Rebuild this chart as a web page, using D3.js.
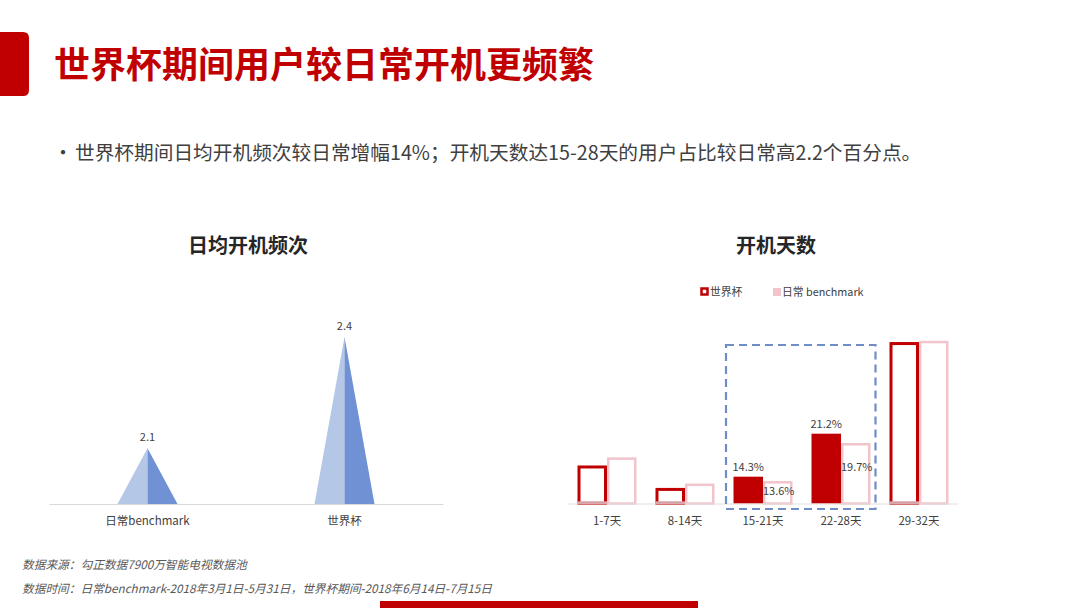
<!DOCTYPE html>
<html><head><meta charset="utf-8">
<script src="https://cdn.jsdelivr.net/npm/d3@7/dist/d3.min.js"></script>
<style>
body{margin:0;background:#fff;}
svg{display:block;font-family:"Noto Sans CJK SC","Noto Sans",sans-serif;}
</style></head>
<body><svg id="c" width="1080" height="608"></svg>
<script>
// ---- data ----
const pageTitle = "世界杯期间用户较日常开机更频繁";
const bulletText = "世界杯期间日均开机频次较日常增幅14%；开机天数达15-28天的用户占比较日常高2.2个百分点。";
const leftTitle = "日均开机频次";
const freqCategories = ["日常benchmark", "世界杯"];
const freqValues = [2.1, 2.4];
const rightTitle = "开机天数";
const dayCategories = ["1-7天", "8-14天", "15-21天", "22-28天", "29-32天"];
const seriesNames = ["世界杯", "日常 benchmark"];
const worldCupValues = [16.1, 12.5, 14.3, 21.2, 35.9];
const benchmarkValues = [17.4, 13.2, 13.6, 19.7, 36.1];
const highlighted = ["15-21天", "22-28天"];
const footnotes = ["数据来源：勾正数据7900万智能电视数据池", "数据时间：日常benchmark-2018年3月1日-5月31日，世界杯期间-2018年6月14日-7月15日"];

const svg = d3.select("#c");
const RED = "#c00000", PINK = "#f2c4cb", TXT = "#404040";

// ---- header ----
svg.append("path").attr("d","M0,32 H23 Q29,32 29,38 V90 Q29,96 23,96 H0 Z").attr("fill",RED);
svg.append("text").attr("x",54).attr("y",78).attr("font-size",36).attr("font-weight",700)
  .attr("fill",RED).text(pageTitle);
svg.append("text").attr("x",53).attr("y",160).attr("font-size",20).attr("fill",TXT).text("•");
svg.append("text").attr("x",75).attr("y",160).attr("font-size",19.7).attr("fill",TXT).text(bulletText);

// ---- left chart ----
svg.append("text").attr("x",248).attr("y",253).attr("text-anchor","middle")
  .attr("font-size",20).attr("font-weight",700).attr("fill","#262626").text(leftTitle);
const xL = d3.scaleBand().domain(freqCategories).range([49,443]);
const yL = d3.scaleLinear().domain([1.95,2.5]).range([504,300]);
const gL = svg.append("g");
const half = 30;
freqCategories.forEach((c,i)=>{
  const cx = xL(c)+xL.bandwidth()/2, top = yL(freqValues[i]), base = yL.range()[0];
  gL.append("path").attr("d",`M${cx-half},${base} L${cx},${top} L${cx},${base} Z`).attr("fill","#b4c7e7");
  gL.append("path").attr("d",`M${cx},${top} L${cx+half},${base} L${cx},${base} Z`).attr("fill","#7091d3");
  gL.append("text").attr("x",cx).attr("y",top-7).attr("text-anchor","middle")
    .attr("font-size",11).attr("fill",TXT).text(freqValues[i].toFixed(1));
});
const axL = svg.append("g").attr("transform","translate(0,504)").call(d3.axisBottom(xL).tickSize(0).tickPadding(13));
axL.select(".domain").attr("stroke","#d9d9d9");
axL.selectAll("text").attr("font-size",11.5).attr("fill",TXT).attr("font-family","\"Noto Sans CJK SC\",sans-serif");

// ---- right chart ----
svg.append("text").attr("x",776).attr("y",253).attr("text-anchor","middle")
  .attr("font-size",20).attr("font-weight",700).attr("fill","#262626").text(rightTitle);
// legend
const lg = svg.append("g");
lg.append("rect").attr("x",701.5).attr("y",288.5).attr("width",6).attr("height",6).attr("fill","#fff").attr("stroke",RED).attr("stroke-width",2.5);
lg.append("text").attr("x",710).attr("y",296).attr("font-size",10.8).attr("fill",TXT).text(seriesNames[0]);
lg.append("rect").attr("x",773).attr("y",288).attr("width",8).attr("height",8).attr("fill",PINK);
lg.append("text").attr("x",782).attr("y",296).attr("font-size",10.8).attr("fill",TXT).text(seriesNames[1]);

const xR = d3.scaleBand().domain(dayCategories).range([568,958]);
const yR = d3.scaleLinear().domain([10,40]).range([503.5,316.5]);
const bw = 29.5;
const gR = svg.append("g");
// baseline
const axR = svg.append("g").attr("transform","translate(0,503.5)").call(d3.axisBottom(xR).tickSize(0).tickPadding(13));
axR.select(".domain").attr("stroke","#e3dede");
axR.selectAll("text").attr("font-size",11.5).attr("fill",TXT).attr("font-family","\"Noto Sans CJK SC\",sans-serif");

dayCategories.forEach((c,i)=>{
  const cx = xR(c)+xR.bandwidth()/2;
  const hl = highlighted.includes(c);
  const wTop = yR(worldCupValues[i]), bTop = yR(benchmarkValues[i]), base = yR.range()[0];
  // benchmark bar (outlined pink)
  gR.append("rect").attr("x",cx+1.25).attr("y",bTop+1.25).attr("width",bw-2.5).attr("height",base-bTop-1.25)
    .attr("fill","#fff").attr("stroke",PINK).attr("stroke-width",2.5);
  if(hl){
    gR.append("rect").attr("x",cx-bw).attr("y",wTop).attr("width",bw).attr("height",base-wTop).attr("fill",RED);
    gR.append("text").attr("x",cx-bw/2).attr("y",wTop-6).attr("text-anchor","middle").attr("font-size",11).attr("fill",TXT).text(worldCupValues[i].toFixed(1)+"%");
    const ly = i===2 ? bTop+14 : (bTop+base)/2-2;
    gR.append("text").attr("x",cx+bw/2+1).attr("y",ly).attr("text-anchor","middle").attr("font-size",11).attr("fill",TXT).text(benchmarkValues[i].toFixed(1)+"%");
  } else {
    gR.append("rect").attr("x",cx-bw+1.5).attr("y",wTop+1.5).attr("width",bw-3).attr("height",base-wTop-1.5)
      .attr("fill","#fff").attr("stroke",RED).attr("stroke-width",3);
    gR.append("line").attr("x1",cx-bw).attr("x2",cx).attr("y1",base-1).attr("y2",base-1).attr("stroke","#d8a0a6").attr("stroke-width",2.5);
  }
});
// dashed highlight box
const hx0 = xR(highlighted[0])+xR.bandwidth()/2-bw-7.5;
const hx1 = xR(highlighted[1])+xR.bandwidth()/2+bw+5;
svg.append("rect").attr("x",hx0).attr("y",345).attr("width",hx1-hx0).attr("height",164)
  .attr("fill","none").attr("stroke","#6f8ec6").attr("stroke-width",2.2).attr("stroke-dasharray","8,5");

// ---- footer ----
footnotes.forEach((t,i)=>{
  svg.append("text").attr("x",22).attr("y",569+i*24).attr("font-size",11.7).attr("font-style","italic")
    .attr("fill","#595959").text(t);
});
svg.append("rect").attr("x",380).attr("y",601).attr("width",318).attr("height",7).attr("fill",RED);
</script></body></html>
